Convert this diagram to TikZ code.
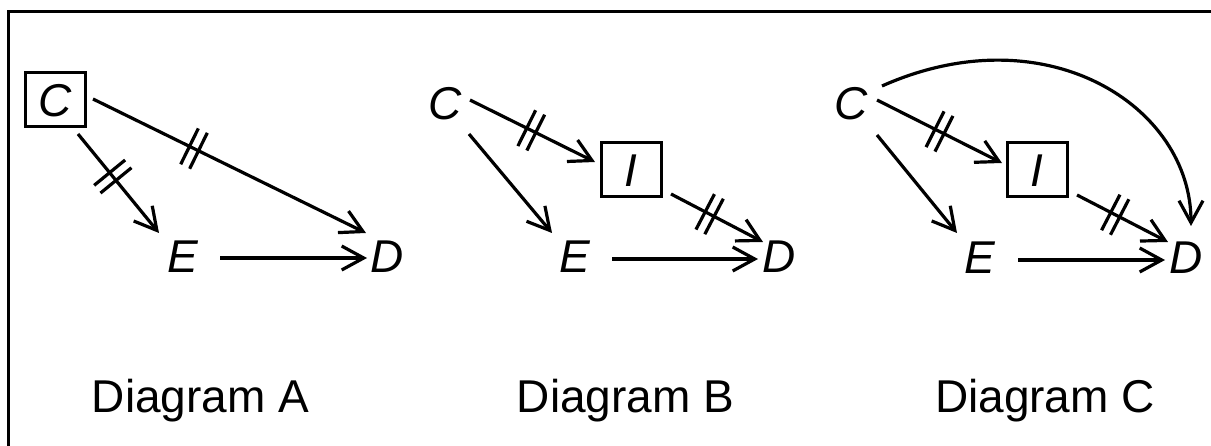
\documentclass[tikz,border=0pt]{standalone}
\usepackage{fontspec}
\setmainfont{Liberation Sans}
\usetikzlibrary{arrows.meta,decorations.markings}
\begin{document}
\begin{tikzpicture}[x=1pt,y=-1pt,
  letter/.style={font=\fontsize{46}{50}\selectfont\itshape, inner sep=0pt, text height=33pt, text depth=0pt},
  boxed/.style={letter, draw, line width=3pt, minimum width=60pt, minimum height=54pt},
  caption/.style={font=\fontsize{46}{50}\selectfont, inner sep=0pt, anchor=base},
  arr/.style={line width=3.2pt, -{Straight Barb[length=22pt,width=24pt]}},
  dtick/.style={postaction={decorate}, decoration={markings, mark=at position #1 with {\draw[arrows=-, line width=3.2pt] (-5,-20) -- (-5,20) (5,-20) -- (5,20);}}}
]
\useasboundingbox (0,0) rectangle (1211,446);
\draw[line width=3.4pt] (8.5,470) -- (8.5,11.3) -- (1230,11.3);

% Diagram A
\node[boxed] (CA) at (55.5,100) {C};
\node[letter] (EA) at (183,256) {E};
\node[letter] (DA) at (387,256) {D};
\draw[arr, dtick=0.43] ([shift={(22.5,34)}]CA.center) -- ([shift={(-24,-23)}]EA.center);
\draw[arr, dtick=0.37] ([shift={(37.5,-1)}]CA.center) -- ([shift={(-21,-23)}]DA.center);
\draw[arr] ([shift={(37,2)}]EA.center) -- ([shift={(-20,2)}]DA.center);
\node[caption] (LA) at (200.5,413) {Diagram A};

% Diagram B
\node[letter] (CB) at (445,103) {C};
\node[boxed] (IB) at (631,170) {I};
\node[letter] (EB) at (575,256) {E};
\node[letter] (DB) at (779,256) {D};
\draw[arr, dtick=0.49] ([shift={(25,-3)}]CB.center) -- ([shift={(-36,-8)}]IB.center);
\draw[arr] ([shift={(24,31)}]CB.center) -- ([shift={(-23,-23)}]EB.center);
\draw[arr, dtick=0.42] ([shift={(40,24)}]IB.center) -- ([shift={(-16,-14)}]DB.center);
\draw[arr] ([shift={(37,3)}]EB.center) -- ([shift={(-21,3)}]DB.center);
\node[caption] (LB) at (625.5,413) {Diagram B};

% Diagram C
\node[letter] (CC) at (851,103) {C};
\node[boxed] (IC) at (1037,170) {I};
\node[letter] (EC) at (980,257) {E};
\node[letter] (DC) at (1186,257) {D};
\draw[arr] ([shift={(31,-17)}]CC.center) .. controls +(164,-73) and +(0,-120) .. ([shift={(5,-31)}]DC.center);
\draw[arr, dtick=0.5] ([shift={(26,-3)}]CC.center) -- ([shift={(-35,-7)}]IC.center);
\draw[arr] ([shift={(26,32)}]CC.center) -- ([shift={(-23,-24)}]EC.center);
\draw[arr, dtick=0.42] ([shift={(40,25)}]IC.center) -- ([shift={(-18,-15)}]DC.center);
\draw[arr] ([shift={(38,3)}]EC.center) -- ([shift={(-21,3)}]DC.center);
\node[caption] (LC) at (1045,413) {Diagram C};
\end{tikzpicture}
\end{document}
